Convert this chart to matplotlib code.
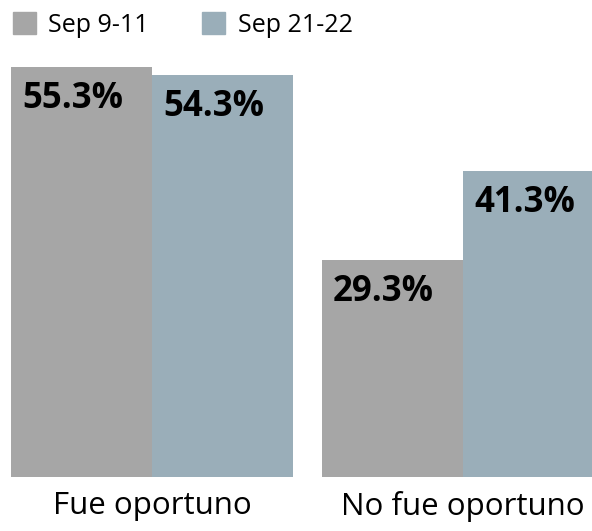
import numpy as np
import matplotlib
matplotlib.use("Agg")
from matplotlib import pyplot as plt
from matplotlib.patches import Patch

plt.rcParams['font.family'] = ['Open Sans', 'DejaVu Sans']

categories = ["Fue oportuno", "No fue oportuno"]
series_names = ["Sep 9-11", "Sep 21-22"]
sep_9_11 = [55.3, 29.3]
sep_21_22 = [54.3, 41.3]
colors = ["#a6a6a6", "#9aaeb9"]

fig = plt.figure(figsize=(5.92, 5.31), dpi=100)
ax = fig.add_axes([0, 54 / 531, 1, 477 / 531])

x = np.arange(len(categories))
w = 141 / 311
bars1 = ax.bar(x - w / 2, sep_9_11, width=w, color=colors[0])
bars2 = ax.bar(x + w / 2, sep_21_22, width=w, color=colors[1])

# labels inside top-left corner of each bar
for bars, vals in [(bars1, sep_9_11), (bars2, sep_21_22)]:
    for b, v in zip(bars, vals):
        ax.annotate(f"{v}%", xy=(b.get_x(), b.get_height()),
                    xytext=(8, -10), textcoords="offset points",
                    ha="left", va="top", fontsize=25, fontweight="bold",
                    color="black")

ax.set_xlim(-152 / 311, 440 / 311)
ax.set_ylim(0, 477 / 7.41)
ax.set_xticks(x)
ax.set_xticklabels(categories, fontsize=22.5)
ax.tick_params(axis="x", length=0, pad=10)
ax.set_yticks([])
for s in ax.spines.values():
    s.set_visible(False)

handles = [Patch(color=c) for c in colors]
fig.legend(handles, series_names, loc="upper left", bbox_to_anchor=(0.0, 1.0),
           ncol=2, frameon=False, fontsize=18, handlelength=0.92,
           handleheight=0.92, handletextpad=0.5, columnspacing=2.15,
           borderpad=0.3, borderaxespad=0.2)

fig.savefig("out.png", dpi=100)
